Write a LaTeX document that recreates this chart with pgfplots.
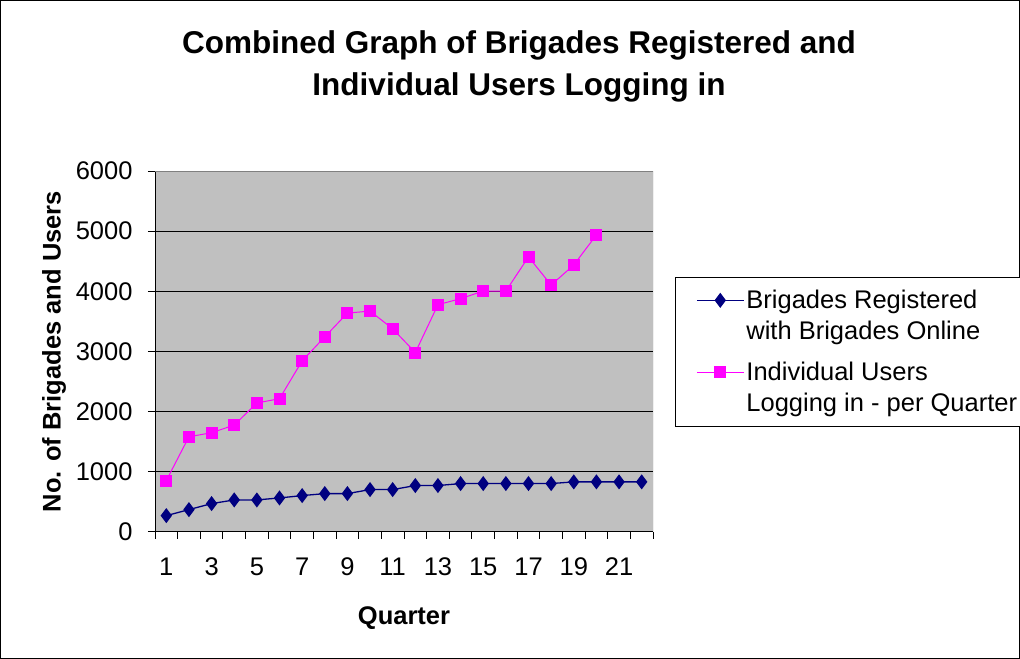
\documentclass[border=0pt]{standalone}
\usepackage{pgfplots}
\pgfplotsset{compat=1.18}
\usepackage{fontspec}
\setmainfont{Liberation Sans}
\definecolor{navyb}{HTML}{000080}
\definecolor{mag}{HTML}{FF00FF}
\definecolor{pgray}{HTML}{C0C0C0}
\definecolor{bgray}{HTML}{808080}
\begin{document}
\begin{tikzpicture}
\useasboundingbox (0bp,0bp) rectangle (1020bp,659bp);
\draw[black, line width=1bp] (0.5bp,0.5bp) rectangle (1019.5bp,658.5bp);
\node[font=\fontsize{31.5bp}{42bp}\selectfont\bfseries, align=center] at (519bp,593bp) {Combined Graph of Brigades Registered and\\Individual Users Logging in};
\begin{axis}[
 at={(155bp,127bp)}, anchor=south west, scale only axis, width=498bp, height=361bp,
 xmin=0.5, xmax=22.5, ymin=0, ymax=6000,
 xtick={1,3,...,21}, minor xtick={0.5,1.5,...,22.5},
 ytick={0,1000,...,6000},
 major x tick style={draw=none},
 tick align=outside, tick pos=left,
 tick style={black, line width=1bp},
 major tick length=7bp, minor tick length=7bp,
 ymajorgrids, major grid style={black, line width=1bp},
 axis background/.style={fill=pgray},
 separate axis lines, axis x line*=bottom, axis y line*=left,
 axis line style={black, line width=1bp, -},
 ticklabel style={font=\fontsize{25.5bp}{30bp}\selectfont},
 xticklabel style={yshift=-15bp},
 yticklabel style={xshift=-12bp},
 /pgf/number format/assume math mode=true,
 /pgf/number format/set thousands separator={},
 xlabel={Quarter}, ylabel={No. of Brigades and Users},
 label style={font=\fontsize{25.5bp}{30bp}\selectfont\bfseries},
 xlabel style={yshift=-24bp},
 ylabel style={yshift=3bp},
 legend style={at={(1.044,0.706)}, anchor=north west, draw=black, fill=white,
   font=\fontsize{25.5bp}{31bp}\selectfont, nodes={align=left}, row sep=17bp,
   inner xsep=21bp, inner ysep=11bp},
 legend cell align=left,
 legend image code/.code={\draw[mark repeat=2,mark phase=2,#1] plot coordinates {(0bp,15.5bp)(23.5bp,15.5bp)(47bp,15.5bp)};},
]
\addplot[navyb, line width=1.3bp, mark=diamond*, mark size=6.5bp, mark options={solid}] coordinates {
(1,272)(2,372)(3,472)(4,533)(5,533)(6,566)(7,605)(8,638)(9,638)(10,705)(11,705)
(12,772)(13,772)(14,805)(15,805)(16,805)(17,805)(18,805)(19,833)(20,833)(21,833)(22,833)};
\addlegendentry{Brigades Registered\\with Brigades Online}
\addplot[mag, line width=1bp, mark=square*, mark size=5.5bp] coordinates {
(1,855)(2,1583)(3,1650)(4,1777)(5,2144)(6,2216)(7,2844)(8,3244)(9,3638)(10,3672)
(11,3377)(12,2983)(13,3778)(14,3878)(15,4005)(16,4005)(17,4572)(18,4105)(19,4438)(20,4938)};
\addlegendentry{Individual Users\\Logging in - per Quarter}
\draw[bgray, line width=1bp] (rel axis cs:0,1) -- (rel axis cs:1,1) -- (rel axis cs:1,0);
\end{axis}
\end{tikzpicture}
\end{document}
